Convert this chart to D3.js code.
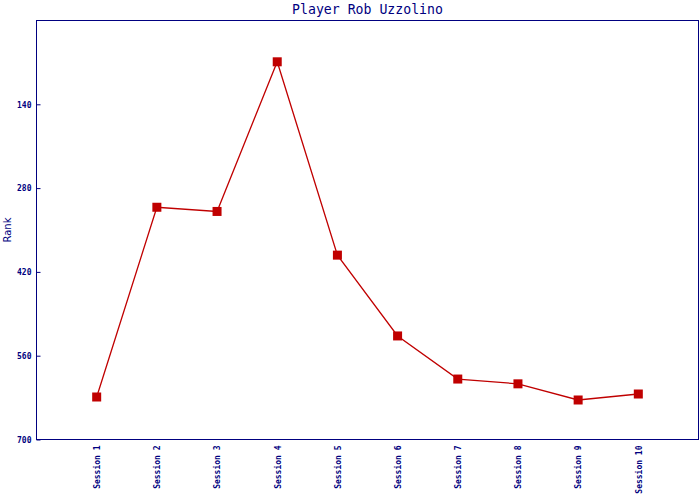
<!DOCTYPE html>
<html><head><meta charset="utf-8">
<script src="https://cdn.jsdelivr.net/npm/d3@7"></script>
<style>body{margin:0;background:#fff}</style>
</head><body>
<svg id="c" width="700" height="500"></svg>
<script>
const categories = ["Session 1","Session 2","Session 3","Session 4","Session 5","Session 6","Session 7","Session 8","Session 9","Session 10"];
const ranks = [629, 312, 319, 69, 392, 527, 599, 607, 634, 624];
const yTicks = [140, 280, 420, 560, 700];
const title = "Player Rob Uzzolino";
const yLabel = "Rank";

const W = 700, H = 500;
const m = {left: 36.5, right: 1.5, top: 20.5, bottom: 60.5};
const svg = d3.select("#c");
const navy = "#000080", red = "#c00000";
const mono = "'DejaVu Sans Mono', monospace";

const x = d3.scaleLinear().domain([0, categories.length + 1]).range([m.left, W - m.right]);
const y = d3.scaleLinear().domain([0, 700]).range([m.top, H - m.bottom]);

// frame
svg.append("rect").attr("x", m.left).attr("y", m.top)
  .attr("width", W - m.right - m.left).attr("height", H - m.bottom - m.top)
  .attr("fill", "none").attr("stroke", navy).attr("stroke-width", 1);

// y axis
const ya = svg.append("g").attr("transform", `translate(${m.left},0)`)
  .call(d3.axisRight(y).tickValues(yTicks).tickSize(4).tickFormat(d3.format("d")));
ya.select(".domain").remove();
ya.selectAll("line").attr("stroke", navy);
ya.selectAll("text").attr("x", -5).attr("text-anchor", "end").attr("fill", navy)
  .attr("font-family", mono).attr("font-size", 8).attr("font-weight", "bold").attr("dy", "0.35em");

// x axis labels
const xa = svg.append("g").attr("transform", `translate(0,${H - m.bottom})`)
  .call(d3.axisBottom(x).tickValues(d3.range(1, categories.length + 1)).tickSize(0)
    .tickFormat(i => categories[i - 1]));
xa.select(".domain").remove();
xa.selectAll("text").attr("fill", navy).attr("font-family", mono).attr("font-size", 8)
  .attr("font-weight", "bold")
  .attr("transform", "rotate(-90)").attr("text-anchor", "end")
  .attr("x", -6).attr("y", 0).attr("dy", "0.35em");

// title
svg.append("text").attr("x", (m.left + W - m.right) / 2).attr("y", 13.5)
  .attr("text-anchor", "middle").attr("fill", navy).attr("font-family", mono)
  .attr("font-size", 13.2).text(title);

// y label
svg.append("text").attr("transform", `translate(11,${(m.top + H - m.bottom) / 2}) rotate(-90)`)
  .attr("text-anchor", "middle").attr("fill", navy)
  .attr("font-family", "'DejaVu Sans', sans-serif").attr("font-size", 10).text(yLabel);

// line
const line = d3.line().x((d, i) => x(i + 1)).y(d => y(d));
svg.append("path").datum(ranks).attr("d", line).attr("fill", "none")
  .attr("stroke", red).attr("stroke-width", 1.3);

svg.selectAll("rect.pt").data(ranks).enter().append("rect").attr("class", "pt")
  .attr("x", (d, i) => x(i + 1) - 4.5).attr("y", d => y(d) - 4.5)
  .attr("width", 9).attr("height", 9).attr("fill", red);
</script>
</body></html>
